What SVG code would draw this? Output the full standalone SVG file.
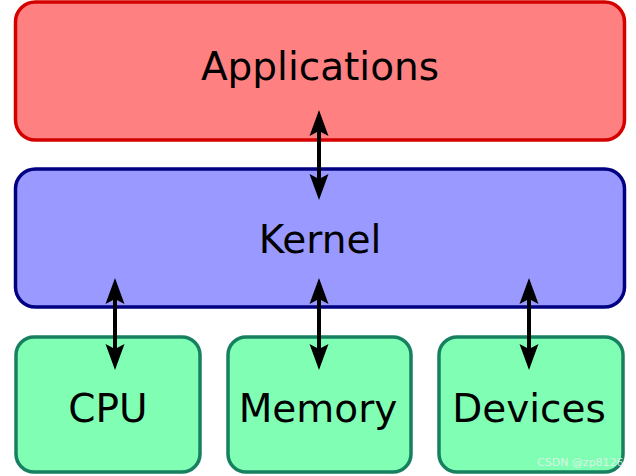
<svg xmlns="http://www.w3.org/2000/svg" width="636" height="476" viewBox="0 0 636 476">
  <style>
    .lbl { font-family: "DejaVu Sans", "Liberation Sans", sans-serif; font-size: 39px; fill: #000; text-anchor: middle; }
    .app { fill: #ff8080; stroke: #d40000; stroke-width: 3.5; }
    .ker { fill: #9999ff; stroke: #000080; stroke-width: 3.5; }
    .hw { fill: #80ffb4; stroke: #168060; stroke-width: 3.5; }
    .conn { stroke: #000; stroke-width: 4; fill: none; marker-start: url(#ah); marker-end: url(#ah); }
    .wm { font-family: "DejaVu Sans", "Liberation Sans", sans-serif; font-size: 11px; fill: #e8f0ec; fill-opacity: 0.85; }
  </style>
  <defs>
    <marker id="ah" markerUnits="userSpaceOnUse" orient="auto-start-reverse" viewBox="-18 -11 30 22" refX="0" refY="0" markerWidth="30" markerHeight="22" overflow="visible">
      <path d="M10,0 L-16,-9.5 L-11,0 L-16,9.5 Z" fill="#000"/>
    </marker>
  </defs>
  <rect width="636" height="476" fill="#fff"/>
  <g id="applications">
    <rect class="app" x="15.5" y="2" width="609" height="138" rx="20" ry="20"/>
    <text class="lbl" x="320" y="80">Applications</text>
  </g>
  <g id="kernel">
    <rect class="ker" x="15.5" y="169" width="609" height="138" rx="20" ry="20"/>
    <text class="lbl" x="320" y="253">Kernel</text>
  </g>
  <g id="cpu">
    <rect class="hw" x="16" y="337" width="184" height="135" rx="18" ry="18"/>
    <text class="lbl" x="108" y="422">CPU</text>
  </g>
  <g id="memory">
    <rect class="hw" x="228" y="337" width="183" height="135" rx="18" ry="18"/>
    <text class="lbl" x="318" y="422">Memory</text>
  </g>
  <g id="devices">
    <rect class="hw" x="439" y="337" width="184" height="135" rx="18" ry="18"/>
    <text class="lbl" x="529" y="422">Devices</text>
  </g>
  <g id="connectors">
    <line class="conn" x1="319" y1="120" x2="319" y2="190"/>
    <line class="conn" x1="115" y1="288" x2="115" y2="360"/>
    <line class="conn" x1="319" y1="288" x2="319" y2="360"/>
    <line class="conn" x1="529" y1="288" x2="529" y2="360"/>
  </g>
  <text class="wm" x="537" y="466">CSDN @zp8126</text>
</svg>
